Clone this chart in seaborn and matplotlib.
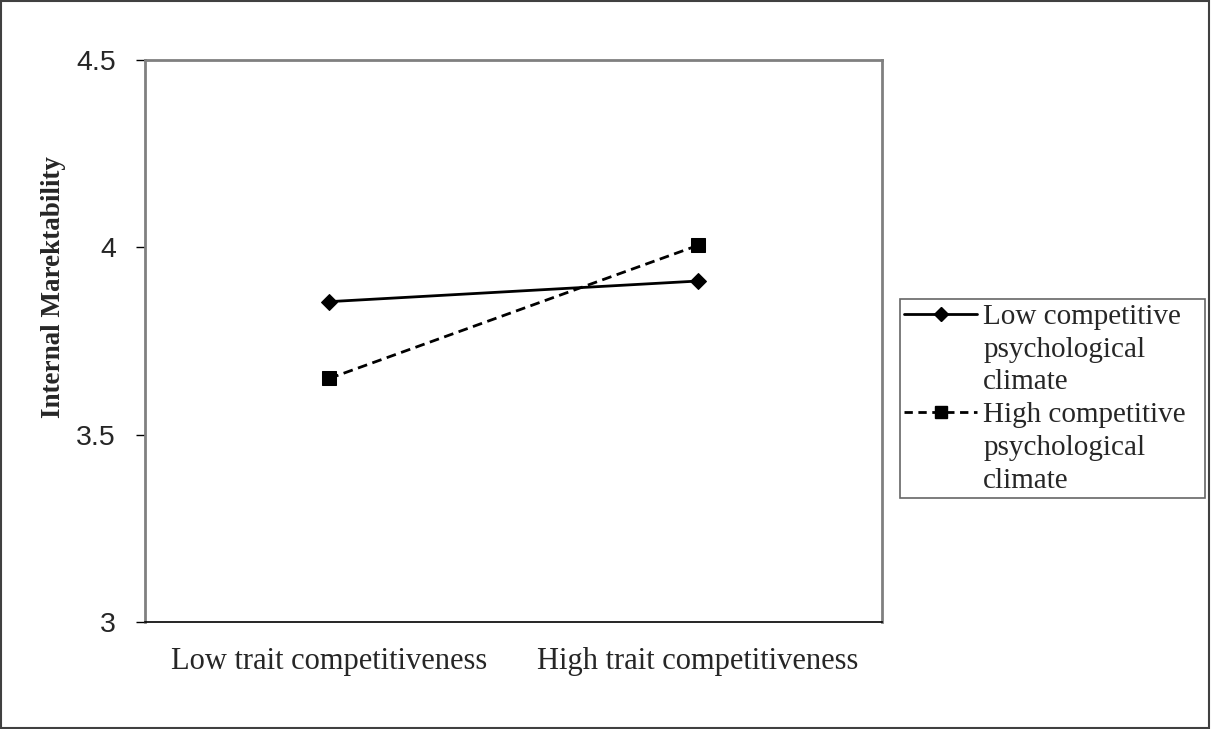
"""Interaction plot: internal marketability by trait competitiveness and climate."""

import matplotlib
matplotlib.use("Agg")
import matplotlib.pyplot as plt
import seaborn as sns
import pandas as pd
from matplotlib.lines import Line2D
from matplotlib.patches import Rectangle

categories = ["Low trait competitiveness", "High trait competitiveness"]
series_names = ["Low competitive climate", "High competitive climate"]
legend_lines = [
    ["Low competitive", "psychological", "climate"],
    ["High competitive", "psychological", "climate"],
]
low_climate = [3.855, 3.910]
high_climate = [3.650, 4.005]
y_ticks = [3, 3.5, 4, 4.5]
y_tick_labels = ["3", "3.5", "4", "4.5"]

sns.set_style("white")
plt.rcParams["font.family"] = ["Liberation Serif", "DejaVu Serif"]

rows = []
for name, vals in zip(series_names, [low_climate, high_climate]):
    for i, v in enumerate(vals):
        rows.append({"pos": i, "value": v, "series": name})
df = pd.DataFrame(rows)

fig = plt.figure(figsize=(12.11, 7.29), dpi=100)
ax = fig.add_axes([0.1197, 0.1468, 0.6086, 0.7709])

styles = {
    series_names[0]: dict(marker="D", linestyle="-", markersize=8),
    series_names[1]: dict(marker="s", linestyle=(0, (3.5, 2)), markersize=10),
}
for name in series_names:
    sub = df[df["series"] == name]
    sns.lineplot(
        data=sub, x="pos", y="value", ax=ax, color="black", linewidth=2,
        markeredgecolor="black", legend=False, **styles[name],
    )

ax.set_xlim(-0.5, 1.5)
ax.set_ylim(3, 4.5)
ax.set_yticks(y_ticks)
ax.set_yticklabels(y_tick_labels, fontfamily="Liberation Sans", fontsize=20.5)
ax.set_xticks([0, 1])
ax.set_xticklabels(categories, fontsize=22)
ax.set_xticks([-0.5, 0.5, 1.5], minor=True)
ax.tick_params(axis="x", which="major", length=0, pad=18)
ax.tick_params(axis="x", which="minor", length=6, width=1, color="black", direction="out")
ax.tick_params(axis="y", length=6.5, width=1, color="black", direction="out", pad=14.5, left=True)
ax.set_xlabel("")
ax.set_ylabel("Internal Marektability", fontsize=19.5, fontweight="bold")
ax.yaxis.set_label_coords(-0.107, 0.596)

for side in ["left", "top", "right"]:
    ax.spines[side].set_color("#808080")
    ax.spines[side].set_linewidth(2)
ax.spines["bottom"].set_color("black")
ax.spines["bottom"].set_linewidth(1.2)

# one legend row per text line, so the marker sits on the first line
blank = Line2D([], [], linestyle="none")
handles = [
    Line2D([], [], color="black", linewidth=2, marker="D", markersize=7, linestyle="-"),
    blank, blank,
    Line2D([], [], color="black", linewidth=2, marker="s", markersize=9,
           linestyle=(0, (3, 2))),
    blank, blank,
]
labels = legend_lines[0] + legend_lines[1]
leg = fig.legend(
    handles, labels, loc="upper left", mode="expand",
    bbox_to_anchor=(900 / 1211, 1 - 299 / 729, 305 / 1211, 0),
    frameon=True, fancybox=False, fontsize=21, handlelength=2.5,
    handletextpad=0.2, borderpad=0.15, labelspacing=0.22, borderaxespad=0,
)
leg.get_frame().set_edgecolor("#404040")
leg.get_frame().set_linewidth(1.2)

fig.patches.append(Rectangle((0.001, 0.001), 0.997, 0.997, transform=fig.transFigure,
                             fill=False, edgecolor="#404040", linewidth=1.5))

fig.savefig("out.png", dpi=100)
